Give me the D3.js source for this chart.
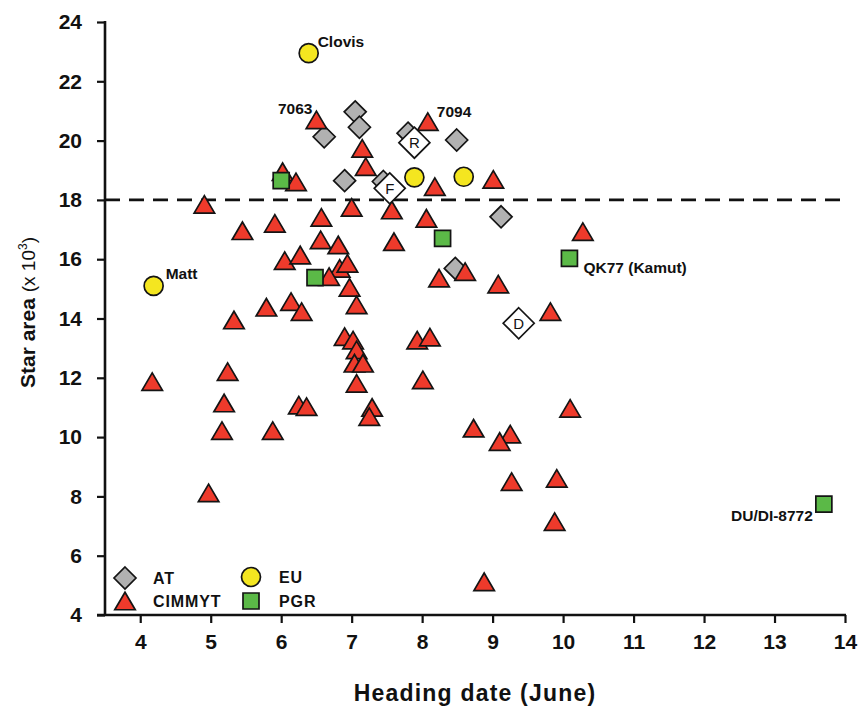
<!DOCTYPE html>
<html><head><meta charset="utf-8">
<script src="https://cdn.jsdelivr.net/npm/d3@7"></script>
<style>
body{margin:0;background:#fff}
svg{display:block}
text{font-family:"Liberation Sans",Arial,Helvetica,sans-serif;fill:#111}
</style>
</head><body>
<svg id="chart" width="864" height="711"></svg>
<script>
// ---------------- data ----------------
const xTicks = [4,5,6,7,8,9,10,11,12,13,14];
const yTicks = [4,6,8,10,12,14,16,18,20,22,24];
const threshold = 18;
const xTitle = "Heading date (June)";
const yTitle = "Star area";
const legendNames = ["AT","CIMMYT","EU","PGR"];

// AT (grey diamonds)  [heading date, star area]
const atData = [
  [6.61,20.13],[7.05,20.97],[7.11,20.45],[6.90,18.65],[7.80,20.25],
  [8.49,20.02],[7.45,18.62],[9.12,17.43],[8.47,15.69]
];
// AT cultivars marked with letters
const atLettered = [["R",7.89,19.93],["F",7.54,18.39],["D",9.37,13.84]];

// CIMMYT (red triangles)
const cimmytData = [
  [6.50,20.70],[8.08,20.64],[7.15,19.74],[7.20,19.12],[6.02,18.95],[6.21,18.61],
  [4.91,17.85],[7.00,17.75],[7.57,17.66],[8.18,18.45],[9.01,18.69],[8.06,17.38],
  [7.60,16.59],[10.28,16.93],[8.61,15.58],[8.24,15.36],[9.08,15.16],[9.82,14.23],
  [7.93,13.27],[8.11,13.37],[8.01,11.93],[10.10,10.97],[5.45,16.96],[5.91,17.21],
  [6.57,17.41],[6.56,16.65],[6.81,16.48],[6.05,15.95],[6.27,16.14],[6.83,15.69],
  [6.94,15.86],[6.68,15.41],[6.97,15.05],[7.07,14.46],[5.79,14.38],[6.14,14.57],
  [6.29,14.23],[5.33,13.95],[4.17,11.87],[5.24,12.21],[5.19,11.15],[6.25,11.08],
  [6.36,11.03],[6.90,13.39],[7.02,13.27],[7.07,12.94],[7.04,12.49],[7.16,12.49],
  [7.07,11.81],[7.29,11.00],[7.25,10.69],[5.16,10.22],[5.88,10.22],[4.97,8.12],
  [8.73,10.30],[9.25,10.10],[9.10,9.85],[9.27,8.50],[9.91,8.61],[9.88,7.15],[8.88,5.12]
];
// EU (yellow circles)
const euData = [[6.39,22.95],[7.89,18.76],[8.59,18.78],[4.19,15.10]];
// PGR (green squares)
const pgrData = [[6.00,18.65],[6.48,15.38],[8.29,16.70],[10.09,16.03],[13.70,7.74]];

// named points
const pointNames = [
  ["Clovis",6.39,22.95],["Matt",4.19,15.10],["7063",6.50,20.70],["7094",8.08,20.64],
  ["QK77 (Kamut)",10.09,16.03],["DU/DI-8772",13.70,7.74]
];

// ---------------- drawing ----------------
const svg = d3.select("#chart");
const x = d3.scaleLinear().domain([3.5,14]).range([105,845]);
const y = d3.scaleLinear().domain([4,24]).range([615,22]);

const col = {at:"#b1b1b1", cim:"#ee3a2b", eu:"#f4e620", pgr:"#5bb947"};

// shapes (centered at 0,0)
const tri = (w,h)=>`M0,${-h/2}L${w/2},${h/2}L${-w/2},${h/2}Z`;
const dia = r=>`M0,${-r}L${r},0L0,${r}L${-r},0Z`;
const sq = s=>`M${-s/2},${-s/2}h${s}v${s}h${-s}Z`;

// dashed reference line
svg.append("line")
  .attr("x1",x(3.5)).attr("x2",x(14)).attr("y1",y(threshold)).attr("y2",y(threshold))
  .attr("stroke","#111").attr("stroke-width",2.6).attr("stroke-dasharray","15,9");

// axes
const xAxis = svg.append("g").attr("transform",`translate(0,${y(4)})`)
  .call(d3.axisBottom(x).tickValues(xTicks).tickSize(8).tickSizeOuter(0).tickPadding(11));
const yAxis = svg.append("g").attr("transform",`translate(${x(3.5)},0)`)
  .call(d3.axisLeft(y).tickValues(yTicks).tickSize(8).tickSizeOuter(0).tickPadding(15));
[xAxis,yAxis].forEach(g=>{
  g.select(".domain").remove();
  g.selectAll(".tick line").attr("stroke","#111").attr("stroke-width",2.2);
  g.selectAll(".tick text").attr("font-size",21).attr("font-weight","bold").attr("fill","#111")
    .style("font-family",'"Liberation Sans",Arial,sans-serif');
});
svg.append("line").attr("x1",x(3.5)-8).attr("x2",x(14)+1).attr("y1",y(4)).attr("y2",y(4))
  .attr("stroke","#111").attr("stroke-width",2.6);
svg.append("line").attr("x1",x(3.5)).attr("x2",x(3.5)).attr("y1",y(24)-1).attr("y2",y(4))
  .attr("stroke","#111").attr("stroke-width",2.6);

// axis titles
svg.append("text").attr("x",(x(3.5)+x(14))/2).attr("y",701)
  .attr("text-anchor","middle").attr("font-size",23).attr("font-weight","bold")
  .attr("letter-spacing",1.2).text(xTitle);
const yt = svg.append("text").attr("transform",`translate(35,${(y(4)+y(24))/2 - 6}) rotate(-90)`)
  .attr("text-anchor","middle").attr("font-size",21);
yt.append("tspan").attr("font-weight","bold").text(yTitle + " ");
yt.append("tspan").attr("font-size",19).text("(x 10");
yt.append("tspan").attr("font-size",12).attr("dy",-8).text("3");
yt.append("tspan").attr("font-size",19).attr("dy",8).text(")");

const strokeW = 1.7, strokeC = "#141414";
const pos = d=>`translate(${x(d[0])},${y(d[1])})`;

// AT diamonds
svg.append("g").selectAll("path").data(atData).join("path")
  .attr("transform",pos).attr("d",dia(11))
  .attr("fill",col.at).attr("stroke",strokeC).attr("stroke-width",strokeW);
// CIMMYT triangles
svg.append("g").selectAll("path").data(cimmytData).join("path")
  .attr("transform",pos).attr("d",tri(20.5,17.5))
  .attr("fill",col.cim).attr("stroke",strokeC).attr("stroke-width",strokeW);
// PGR squares
svg.append("g").selectAll("path").data(pgrData).join("path")
  .attr("transform",pos).attr("d",sq(16))
  .attr("fill",col.pgr).attr("stroke",strokeC).attr("stroke-width",strokeW);
// EU circles
svg.append("g").selectAll("circle").data(euData).join("circle")
  .attr("cx",d=>x(d[0])).attr("cy",d=>y(d[1])).attr("r",9.5)
  .attr("fill",col.eu).attr("stroke",strokeC).attr("stroke-width",strokeW);
// lettered AT diamonds
const lg = svg.append("g").selectAll("g").data(atLettered).join("g")
  .attr("transform",d=>`translate(${x(d[1])},${y(d[2])})`);
lg.append("path").attr("d",dia(15.5)).attr("fill","#fff").attr("stroke",strokeC).attr("stroke-width",strokeW);
lg.append("text").attr("text-anchor","middle").attr("dy","0.36em").attr("font-size",15).text(d=>d[0]);

// point labels (offsets from the point)
const labelOffsets = {
  "Clovis":[9,-12,"start"], "Matt":[12,-12,"start"], "7063":[-4,-11,"end"],
  "7094":[9,-10,"start"], "QK77 (Kamut)":[14,9,"start"], "DU/DI-8772":[-11,11,"end"]
};
svg.append("g").selectAll("text").data(pointNames).join("text")
  .attr("x",d=>x(d[1])+labelOffsets[d[0]][0])
  .attr("y",d=>y(d[2])+labelOffsets[d[0]][1])
  .attr("dy","0.36em").attr("text-anchor",d=>labelOffsets[d[0]][2])
  .attr("font-size",15.5).attr("font-weight","bold").text(d=>d[0]);

// legend
const legendShapes = [
  {name:legendNames[0], cx:125, cy:578, draw:g=>g.append("path").attr("d",dia(11)).attr("fill",col.at)},
  {name:legendNames[1], cx:125, cy:601, draw:g=>g.append("path").attr("d",tri(20.5,17.5)).attr("fill",col.cim)},
  {name:legendNames[2], cx:251, cy:577, draw:g=>g.append("circle").attr("r",9.5).attr("fill",col.eu)},
  {name:legendNames[3], cx:251, cy:601, draw:g=>g.append("path").attr("d",sq(16)).attr("fill",col.pgr)}
];
legendShapes.forEach(l=>{
  const g = svg.append("g").attr("transform",`translate(${l.cx},${l.cy})`);
  l.draw(g).attr("stroke",strokeC).attr("stroke-width",strokeW);
  g.append("text").attr("x",28).attr("dy","0.36em").attr("font-size",16)
    .attr("font-weight","bold").attr("letter-spacing",0.9).text(l.name);
});
</script>
</body></html>
